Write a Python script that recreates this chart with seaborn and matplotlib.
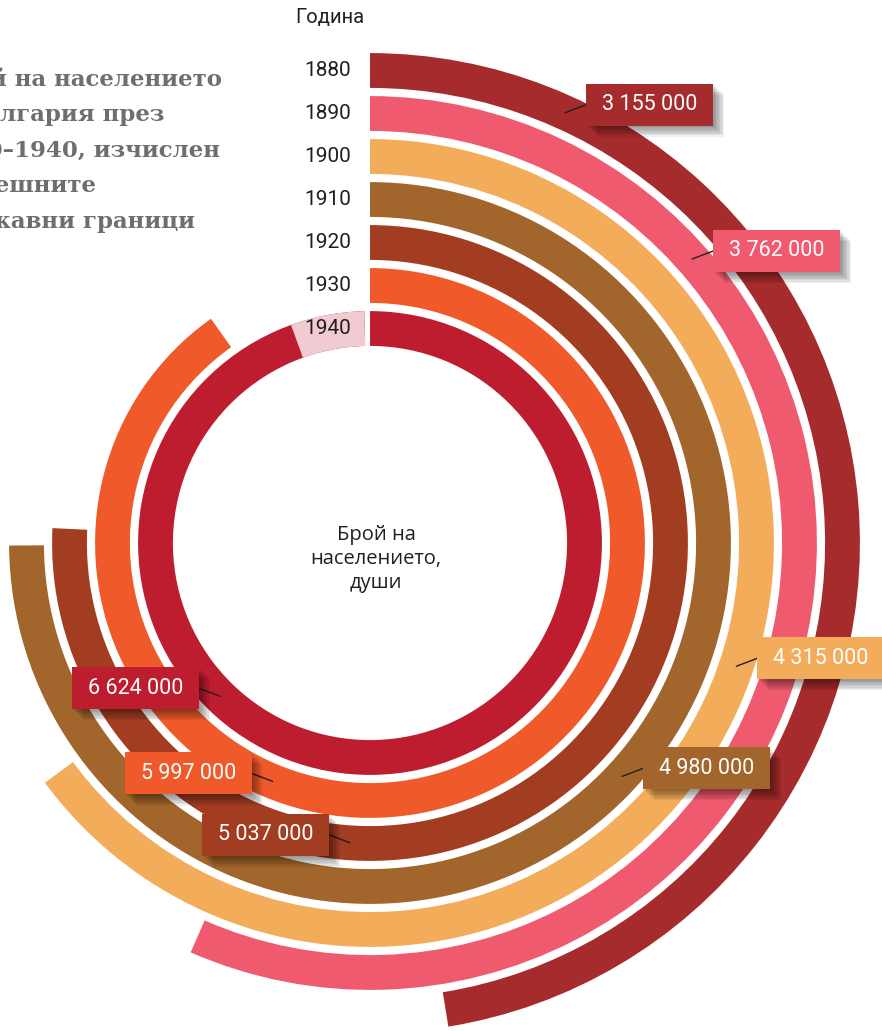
# -*- coding: utf-8 -*-
# radial bar chart - population of Bulgaria 1880-1940
import numpy as np
import pandas as pd
import matplotlib
matplotlib.use('Agg')
import matplotlib.pyplot as plt
import matplotlib.patheffects as pe
from matplotlib.patches import Rectangle
from matplotlib.lines import Line2D
import seaborn as sns

# ---- data ----
years = ['1880', '1890', '1900', '1910', '1920', '1930', '1940']
population = [3155000, 3762000, 4315000, 4980000, 5037000, 5997000, 6624000]
full_circle = 6650000  # value that would close a ring

title_lines = ['Брой на населението', 'в България през', '1880–1940, изчислен',
               'в днешните', 'държавни граници']
center_text = 'Брой на\nнаселението,\nдуши'
year_header = 'Година'

# ---- style ----
ring_colors = ['#a52b2c', '#ef5a6e', '#f3ac5a', '#a2652c', '#a33d22', '#f05a2a', '#bd1d2f']
label_angle = [24.4, 48.6, 108.6, 132.8, 183.8, 202.2, 224.4]  # where the leader touches the ring
label_side = [1, 1, 1, 1, -1, -1, -1]

W, H = 882, 1031
cx, cy, R = 370, 543, 500          # centre of the rings and axes radius in px
ring_step = 43                     # px between rings
ring0 = 472.5                      # px radius of the outer ring centre

sns.set_theme(style='white')
plt.rcParams['font.family'] = ['Roboto', 'DejaVu Sans']

df = pd.DataFrame({'year': years, 'pop': population})
df['theta'] = df['pop'] / full_circle * 2 * np.pi
df['label'] = [f'{v:,}'.replace(',', ' ') for v in population]

fig = plt.figure(figsize=(W / 100, H / 100), dpi=100)
ax = fig.add_axes([(cx - R) / W, (H - cy - R) / H, 2 * R / W, 2 * R / H], projection='polar')
ax.set_theta_zero_location('N')
ax.set_theta_direction(-1)

sns.barplot(data=df, x='theta', y='year', hue='year', order=years, hue_order=years,
            palette=dict(zip(years, ring_colors)), orient='h', width=0.81, saturation=1,
            errorbar=None, legend=False, linewidth=0, ax=ax)

# pale band behind the 1940 label
gap = np.deg2rad(18.5)
ax.bar(df['theta'].iloc[-1] - gap, 0.81, width=gap, bottom=len(years) - 1 - 0.405,
       align='edge', color='#f0ccd2', linewidth=0)

ax.set_xlim(0, 2 * np.pi)
r_origin = ring0 / ring_step
ax.set_ylim(r_origin, r_origin - R / ring_step)
ax.axis('off')

# year labels at the start of each ring
for i, y in enumerate(years):
    ax.annotate(y, xy=(0, i), xytext=(-19, 0), textcoords='offset pixels',
                ha='right', va='center', fontsize=15, color='#231f20')

fig.text(330 / W, 1 - 18 / H, year_header, ha='center', va='center', fontsize=14.5, color='#231f20')

fig.text(376 / W, 1 - 559 / H, center_text, ha='center', va='center', fontsize=14.5,
         family=['Open Sans', 'DejaVu Sans'], color='#231f20', linespacing=1.25)

# title, cut by the left edge as in the source layout
fig.text(222 / W, 1 - 228 / H, '\n'.join(title_lines), ha='right', va='baseline',
         multialignment='left', fontsize=16.5, family=['DejaVu Serif'], weight='bold',
         color='#6d6e71', linespacing=1.8)

# value boxes
bw, bh = 127, 42
shadow = [pe.SimplePatchShadow(offset=(k, -k), shadow_rgbFace='black', alpha=0.06) for k in range(1, 9)]
for i in range(len(years)):
    px, py = ax.transData.transform((np.deg2rad(label_angle[i]), i))
    side = label_side[i]
    bx, by = px + side * 84.5, py + 8
    rect = Rectangle(((bx - bw / 2) / W, (by - bh / 2) / H), bw / W, bh / H,
                     facecolor=ring_colors[i], edgecolor='none', zorder=5,
                     transform=fig.transFigure)
    rect.set_path_effects(shadow + [pe.Normal()])
    fig.add_artist(rect)
    ex = bx - side * bw / 2
    fig.add_artist(Line2D([px / W, ex / W], [py / H, by / H], color='#231f20', lw=1,
                          transform=fig.transFigure, zorder=4))
    fig.text(bx / W, by / H, df['label'].iloc[i], ha='center', va='center',
             color='white', fontsize=15.5, zorder=6)

fig.savefig('out.png', dpi=100)
